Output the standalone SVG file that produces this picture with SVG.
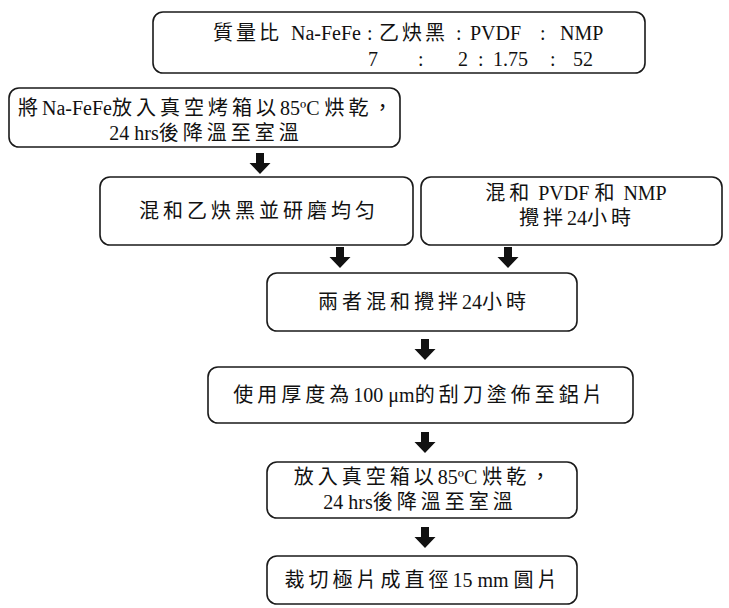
<svg xmlns="http://www.w3.org/2000/svg" width="729" height="608" viewBox="0 0 729 608">
<defs>
<style>
.box{fill:#fff;stroke:#1a1a1a;stroke-width:1.6}
.t{font-family:"Liberation Serif","Noto Sans CJK TC",serif;font-size:20px;fill:#111}
.c{letter-spacing:4px}
.c3{letter-spacing:3px}
.arr{fill:#111}
</style>
<path id="ar" d="M-4,0 H4 V10 H10.5 L0,21 L-10.5,10 H-4 Z"/>
</defs>
<rect width="729" height="608" fill="#fff"/>
<g id="n1">
<rect class="box" x="153" y="12" width="492" height="61" rx="10"/>
<text class="t" y="40"><tspan x="213" class="c3">質量比</tspan><tspan x="291">Na-FeFe</tspan><tspan x="367">:</tspan><tspan x="379" class="c3">乙炔黑</tspan><tspan x="456">:</tspan><tspan x="470">PVDF</tspan><tspan x="540">:</tspan><tspan x="560">NMP</tspan></text>
<text class="t" y="66"><tspan x="368">7</tspan><tspan x="418">:</tspan><tspan x="458">2</tspan><tspan x="478">:</tspan><tspan x="493">1.75</tspan><tspan x="550">:</tspan><tspan x="573">52</tspan></text>
</g>
<g id="n2">
<rect class="box" x="9" y="88" width="391" height="59" rx="10"/>
<text class="t" y="115" xml:space="preserve"><tspan x="18" class="c">將</tspan><tspan>Na-FeFe</tspan><tspan class="c">放入真空烤箱以</tspan><tspan>85ºC </tspan><tspan class="c">烘乾，</tspan></text>
<text class="t" y="140" text-anchor="middle" x="206"><tspan>24 hrs</tspan><tspan class="c">後降溫至室溫</tspan></text>
</g>
<g id="n3">
<rect class="box" x="100" y="177" width="313" height="68" rx="10"/>
<text class="t c" x="259" y="218" text-anchor="middle">混和乙炔黑並研磨均匀</text>
</g>
<g id="n4">
<rect class="box" x="421" y="177" width="301" height="68" rx="10"/>
<text class="t" x="576" y="200" text-anchor="middle" xml:space="preserve"><tspan class="c">混和</tspan> PVDF <tspan class="c">和</tspan> NMP</text>
<text class="t" x="577" y="225" text-anchor="middle"><tspan class="c">攪拌</tspan><tspan>24</tspan><tspan class="c">小時</tspan></text>
</g>
<g id="n5">
<rect class="box" x="267" y="273" width="310" height="58" rx="10"/>
<text class="t" x="424" y="309" text-anchor="middle"><tspan class="c">兩者混和攪拌</tspan><tspan>24</tspan><tspan class="c">小時</tspan></text>
</g>
<g id="n6">
<rect class="box" x="208" y="367" width="425" height="56" rx="10"/>
<text class="t" x="420" y="402" text-anchor="middle" xml:space="preserve"><tspan class="c">使用厚度為</tspan>100 μm<tspan class="c">的刮刀塗佈至鋁片</tspan></text>
</g>
<g id="n7">
<rect class="box" x="267" y="462" width="310" height="56" rx="10"/>
<text class="t" x="424" y="484" text-anchor="middle" xml:space="preserve"><tspan class="c">放入真空箱以</tspan>85ºC <tspan class="c">烘乾，</tspan></text>
<text class="t" x="420" y="509" text-anchor="middle"><tspan>24 hrs</tspan><tspan class="c">後降溫至室溫</tspan></text>
</g>
<g id="n8">
<rect class="box" x="267" y="556" width="310" height="48" rx="10"/>
<text class="t" x="423" y="587" text-anchor="middle" xml:space="preserve"><tspan class="c">裁切極片成直徑</tspan>15 mm <tspan class="c">圓片</tspan></text>
</g>
<g id="connectors" class="arr">
<use href="#ar" x="260" y="153"/>
<use href="#ar" x="340" y="247"/>
<use href="#ar" x="508" y="247"/>
<use href="#ar" x="425" y="339"/>
<use href="#ar" x="425" y="432"/>
<use href="#ar" x="425" y="527"/>
</g>
</svg>
